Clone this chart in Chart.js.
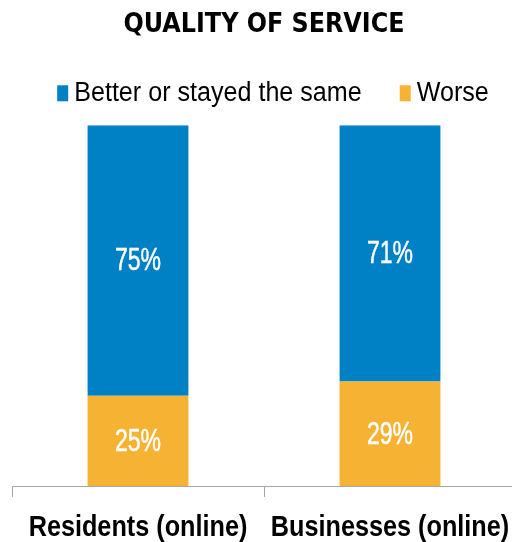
<!DOCTYPE html>
<html>
<head>
<meta charset="utf-8">
<script src="https://cdn.jsdelivr.net/npm/chart.js@4.4.1/dist/chart.umd.min.js"></script>
<style>
  html, body { margin: 0; padding: 0; background: #ffffff; overflow: hidden; }
  #wrap { width: 512px; height: 542px; overflow: hidden; position: relative; }
  canvas { display: block; }
</style>
</head>
<body>
<div id="wrap"><canvas id="chart" width="520" height="542"></canvas></div>
<script>
// Quality of service: share of respondents per group (percent)
const categories = ['Residents (online)', 'Businesses (online)'];
const worse = [25, 29];
const betterOrSame = [75, 71];
const seriesNames = ['Worse', 'Better or stayed the same'];
const chartTitle = 'QUALITY OF SERVICE';

const BLUE = '#0081C6';
const ORANGE = '#F6B233';
const SANS = '"Liberation Sans", Arial, sans-serif';

// Draw text squeezed horizontally (narrow-looking face); optional outline thickens it a little
function narrowText(ctx, text, x, y, squeeze, outline) {
  ctx.save();
  ctx.translate(x, y);
  ctx.scale(squeeze, 1);
  ctx.fillText(text, 0, 0);
  if (outline) {
    ctx.lineWidth = outline;
    ctx.lineJoin = 'round';
    ctx.strokeStyle = ctx.fillStyle;
    ctx.strokeText(text, 0, 0);
  }
  ctx.restore();
}

// White value labels centred in each stacked segment
const segmentLabels = {
  id: 'segmentLabels',
  afterDatasetsDraw(chart) {
    const ctx = chart.ctx;
    ctx.save();
    ctx.fillStyle = '#ffffff';
    ctx.font = '32px ' + SANS;
    ctx.textAlign = 'center';
    ctx.textBaseline = 'middle';
    chart.data.datasets.forEach((ds, i) => {
      chart.getDatasetMeta(i).data.forEach((bar, j) => {
        const p = bar.getProps(['x', 'y', 'base'], true);
        narrowText(ctx, ds.data[j] + '%', p.x, (p.y + p.base) / 2 + 1, 0.72, 0.5);
      });
    });
    ctx.restore();
  }
};

// Bold category names under the axis, placed from the x scale
const categoryLabels = {
  id: 'categoryLabels',
  afterDraw(chart) {
    const ctx = chart.ctx;
    const xs = chart.scales.x;
    ctx.save();
    ctx.fillStyle = '#000000';
    ctx.font = 'bold 29px ' + SANS;
    ctx.textAlign = 'center';
    ctx.textBaseline = 'alphabetic';
    chart.data.labels.forEach((lab, i) => {
      narrowText(ctx, lab, xs.getPixelForValue(i), xs.bottom + 39, 0.87);
    });
    ctx.restore();
  }
};

// Legend row: series in top-down order (Better first, then Worse)
const legendRow = {
  id: 'legendRow',
  afterDraw(chart) {
    const ctx = chart.ctx;
    const squeeze = 0.93, box = 11, boxH = 16, gap = 6, itemGap = 38;
    const items = chart.data.datasets.slice().reverse();
    ctx.save();
    ctx.font = '27px ' + SANS;
    ctx.textBaseline = 'alphabetic';
    ctx.textAlign = 'left';
    const widths = items.map(d => ctx.measureText(d.label).width * squeeze);
    const total = widths.reduce((a, w) => a + box + gap + w, 0) + itemGap * (items.length - 1);
    let x = chart.width / 2 + 13 - total / 2;
    const baseline = chart.chartArea.top - 24;
    items.forEach((d, i) => {
      ctx.fillStyle = d.backgroundColor;
      ctx.fillRect(x, baseline - boxH, box, boxH);
      ctx.fillStyle = '#000000';
      narrowText(ctx, d.label, x + box + gap, baseline, squeeze);
      x += box + gap + widths[i] + itemGap;
    });
    ctx.restore();
  }
};

new Chart(document.getElementById('chart'), {
  type: 'bar',
  data: {
    labels: categories,
    datasets: [
      { label: seriesNames[0], data: worse, backgroundColor: ORANGE, borderWidth: 0 },
      { label: seriesNames[1], data: betterOrSame, backgroundColor: BLUE, borderWidth: 0 }
    ]
  },
  options: {
    responsive: false,
    animation: false,
    devicePixelRatio: 1,
    layout: { padding: { left: 12, right: 4, top: 0, bottom: 45 } },
    datasets: { bar: { categoryPercentage: 0.4, barPercentage: 1.0 } },
    scales: {
      x: {
        stacked: true,
        offset: true,
        grid: { offset: true, drawOnChartArea: false, drawTicks: true, tickLength: 11, color: '#A6A6A6', lineWidth: 1 },
        border: { display: true, color: '#A6A6A6', width: 1 },
        ticks: { display: false }
      },
      y: {
        stacked: true,
        display: false,
        min: 0,
        max: 100
      }
    },
    plugins: {
      title: {
        display: true,
        text: chartTitle,
        color: '#000000',
        font: { family: '"DejaVu Sans Condensed", "DejaVu Sans", sans-serif', size: 26.5, weight: 'bold', lineHeight: 1.2 },
        padding: { top: 9, bottom: 84.5 }
      },
      legend: { display: false },
      tooltip: { enabled: false }
    }
  },
  plugins: [segmentLabels, categoryLabels, legendRow]
});
</script>
</body>
</html>
